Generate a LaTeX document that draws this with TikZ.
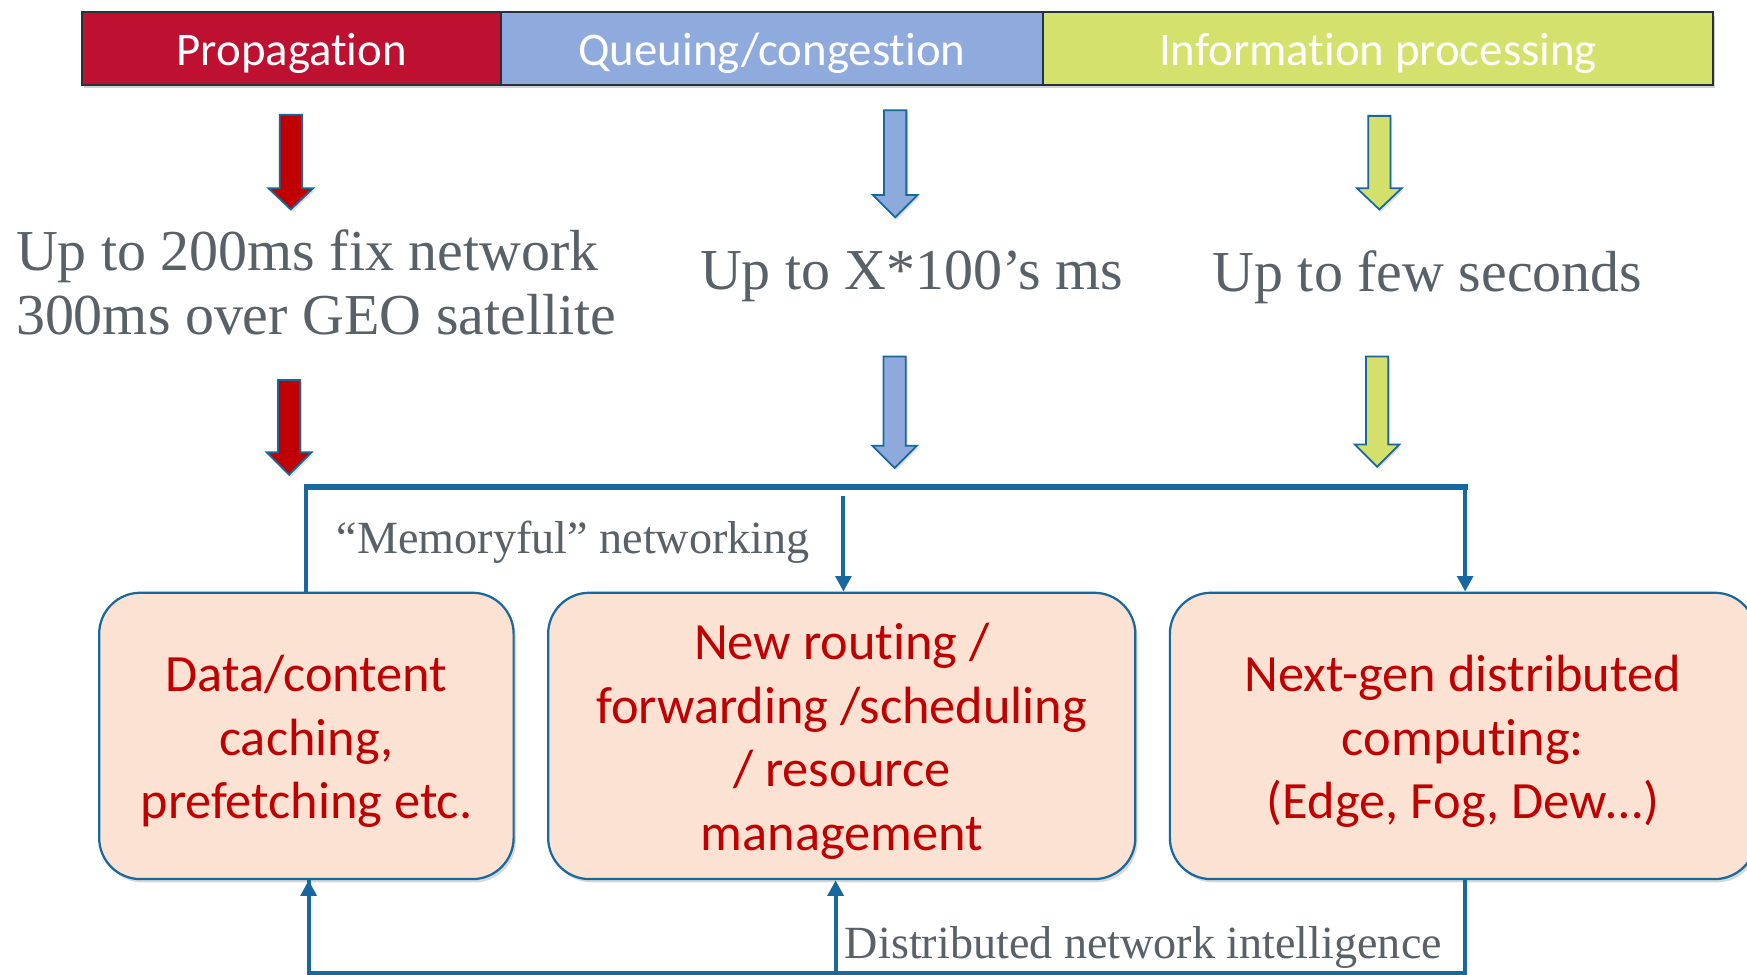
\documentclass[tikz,border=0pt]{standalone}
\usepackage{fontspec}
\setmainfont{Liberation Serif}
\newfontfamily\calfont{Carlito}[Ligatures=NoCommon]
\usetikzlibrary{shadows,arrows.meta}
\definecolor{barred}{RGB}{190,16,48}
\definecolor{barblue}{RGB}{143,170,220}
\definecolor{bargreen}{RGB}{213,225,109}
\definecolor{arrred}{RGB}{192,0,0}
\definecolor{arrblue}{RGB}{142,169,219}
\definecolor{arrgreen}{RGB}{212,224,107}
\definecolor{lineblue}{RGB}{22,104,158}
\definecolor{boxfill}{RGB}{251,226,211}
\definecolor{txtred}{RGB}{192,0,0}
\definecolor{txtgray}{RGB}{88,96,104}
\definecolor{baredge}{RGB}{40,50,62}
\newcommand\blockarrow[5]{%
  \filldraw[fill=#5, draw=lineblue, line width=0.8pt, line join=miter,
    drop shadow={opacity=0.25, shadow xshift=0.8pt, shadow yshift=-1pt}]
    ({#1-10},#2) -- ({#1+10},#2) -- ({#1+10},#3) -- ({#1+20},#3) -- (#1,#4)
    -- ({#1-20},#3) -- ({#1-10},#3) -- cycle;}
\begin{document}
\begin{tikzpicture}[x=0.5pt,y=-0.5pt,
  barcell/.style={draw=baredge, line width=0.9pt, anchor=north west,
    minimum height=32.5pt, inner sep=0pt, text=white,
    text height=16pt, text depth=0.5pt,
    font=\calfont\fontsize{21pt}{25pt}\selectfont},
  box/.style={draw=lineblue, line width=1pt, fill=boxfill, rounded corners=18.5pt,
    inner sep=0pt, minimum height=128.5pt,
    drop shadow={opacity=0.3, shadow xshift=1pt, shadow yshift=-1.5pt}},
  boxtext/.style={align=center, text=txtred, inner sep=0pt, yshift=-2.5pt,
    font=\calfont\fontsize{23.5pt}{28.5pt}\selectfont},
  lbl/.style={inner sep=0pt, anchor=base west, text=txtgray,
    font=\fontsize{26pt}{30pt}\selectfont},
  smalllbl/.style={inner sep=0pt, anchor=base west, text=txtgray,
    font=\fontsize{20.7pt}{24pt}\selectfont},
  conn/.style={draw=lineblue, line width=1.75pt},
  connthick/.style={draw=lineblue, line width=2.6pt},
  tip/.style={-{Triangle[width=7pt,length=7pt]}}
]
\useasboundingbox (0,0) rectangle (1568,875);
\clip (0,0) rectangle (1568,875);
\fill[white] (0,0) rectangle (1568,875);

% top bar
\path[fill=white, drop shadow={opacity=0.35, shadow xshift=1pt, shadow yshift=-2pt}]
  (73,10) rectangle (1537,75);
\node[barcell, fill=barred, minimum width=188pt] (prop) at (73,10) {Propagation};
\node[barcell, fill=barblue, minimum width=243pt] (queue) at (449,10) {Queuing/congestion};
\node[barcell, fill=bargreen, minimum width=301pt] (info) at (935,10) {Information processing};

% block arrows
\blockarrow{261}{103}{169}{188}{arrred}
\blockarrow{803.5}{99}{175}{195}{arrblue}
\blockarrow{1238}{104}{169}{188}{arrgreen}
\blockarrow{259.5}{341}{406}{426}{arrred}
\blockarrow{803}{320}{400}{420}{arrblue}
\blockarrow{1236}{320}{399}{419}{arrgreen}

% delay texts
\node[lbl] (t1a) at (14,243) {Up to 200ms fix network};
\node[lbl] (t1b) at (14,300) {300ms over GEO satellite};
\node[lbl] (t2) at (628,260) {Up to X*100’s ms};
\node[lbl] (t3) at (1088,262) {Up to few seconds};

% boxes
\node[box, minimum width=186pt] (b1) at (275,660.5) {};
\node[box, minimum width=263.5pt] (b2) at (755.5,660.5) {};
\node[box, minimum width=263pt] (b3) at (1313,660.5) {};
\node[boxtext] (b1t) at (b1.center) {Data/content\\caching,\\prefetching etc.};
\node[boxtext] (b2t) at (b2.center) {New routing /\\forwarding /scheduling\\/ resource\\management};
\node[boxtext] (b3t) at (b3.center) {Next-gen distributed\\computing:\\(Edge, Fog, Dew…)};

% top connectors
\coordinate (hl) at (275,437);
\coordinate (hr) at (1315,437);
\coordinate (ms) at (757,445);
\draw[conn] (b1.north) -- ([yshift=-1pt]hl);
\draw[connthick, line cap=rect] (hl) -- (hr);
\draw[conn, tip] ([yshift=-1pt]hr) -- (hr |- b3.north);
\draw[conn, tip] (ms) -- (ms |- b2.north);
\node[smalllbl] (mem) at (302,497) {“Memoryful” networking};

% bottom connectors
\coordinate (br) at (1315,873);
\coordinate (bl) at (277,873);
\coordinate (bm) at (750,873);
\draw[conn, line join=miter] (br |- b3.south) -- (br) -- (bl) -- (bl |- b1.south);
\draw[conn, tip] ([yshift=-20pt]bl) -- (bl |- b1.south);
\draw[conn, tip] (bm) -- (bm |- b2.south);
\node[smalllbl] (dni) at (758,860) {Distributed network intelligence};
\end{tikzpicture}
\end{document}
